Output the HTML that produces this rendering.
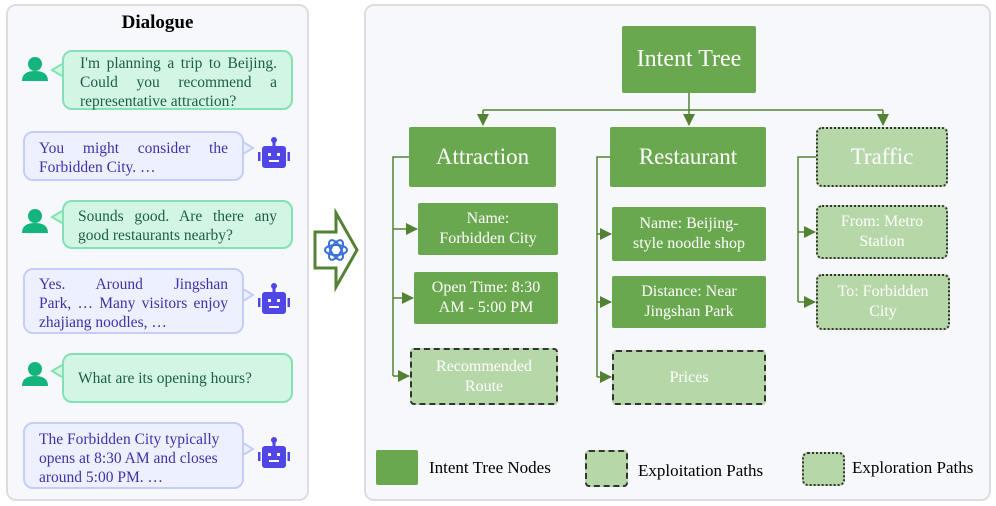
<!DOCTYPE html>
<html><head><meta charset="utf-8"><style>
body{margin:0;width:996px;height:506px;background:#fff;position:relative;overflow:hidden;font-family:"Liberation Serif",serif;}
.abs{position:absolute;box-sizing:border-box;}
.panel{background:#f7f8fc;border:2px solid #dcdde2;border-radius:10px;}
.ub{background:#d3f6e4;border:2px solid #82e2b4;border-radius:10px;color:#1b5e44;font-size:15.5px;line-height:19px;padding:4px 14px;}
.bb{background:#edf0ff;border:2px solid #c5cdf8;border-radius:10px;color:#3b34a8;font-size:15.5px;line-height:19px;padding:4px 14px;}
.j{display:block;text-align:justify;text-align-last:justify;white-space:nowrap;}
.k{display:block;white-space:nowrap;}
.n{background:#6aa84f;color:#fff;display:flex;align-items:center;justify-content:center;text-align:center;border-radius:2px;}
.l{background:#b6d7a8;color:#fff;display:flex;align-items:center;justify-content:center;text-align:center;}
.d{border:2px dashed #333;border-radius:4px;}
.w{border:2px dotted #333;border-radius:6px;}
.c{font-size:16px;line-height:20px;}
</style></head><body>
<div class="abs panel" style="left:6px;top:4px;width:303px;height:497px"></div>
<div class="abs" style="left:6px;top:12px;width:303px;text-align:center;font-weight:bold;font-size:19px">Dialogue</div>

<svg class="abs" style="left:0;top:0" width="996" height="506">
<defs>
<g id="u"><circle cx="13" cy="8" r="7" fill="#14b57d"/><path d="M0 25 Q0 15 13 15 Q26 15 26 25 Z" fill="#14b57d"/></g>
<g id="r"><rect x="4" y="9" width="24" height="22" rx="3" fill="#4f46e5"/><rect x="14.5" y="3" width="3" height="7" fill="#4f46e5"/><circle cx="16" cy="3" r="3" fill="#4f46e5"/><rect x="0" y="15" width="2.5" height="9" fill="#4f46e5"/><rect x="29.5" y="15" width="2.5" height="9" fill="#4f46e5"/><rect x="10" y="16" width="3" height="3" fill="#fff"/><rect x="19" y="16" width="3" height="3" fill="#fff"/><rect x="11" y="23" width="10" height="2" fill="#fff"/></g>
<marker id="b" markerWidth="12" markerHeight="12" refX="11" refY="6" orient="auto" markerUnits="userSpaceOnUse"><path d="M0 0 L12 6 L0 12Z" fill="#548235"/></marker>
</defs>
<use href="#u" x="22" y="56"/><use href="#u" x="22" y="208"/><use href="#u" x="22" y="361"/>
<use href="#r" x="258" y="137"/><use href="#r" x="258" y="283"/><use href="#r" x="258" y="437"/>
<path d="M62 64 L52 70 L62 76" fill="#d3f6e4" stroke="#82e2b4" stroke-width="2"/>
<path d="M62 211 L52 217 L62 223" fill="#d3f6e4" stroke="#82e2b4" stroke-width="2"/>
<path d="M62 365 L52 371 L62 377" fill="#d3f6e4" stroke="#82e2b4" stroke-width="2"/>
<path d="M243 142 L253 148 L243 154" fill="#edf0ff" stroke="#c5cdf8" stroke-width="2"/>
<path d="M243 289 L253 295 L243 301" fill="#edf0ff" stroke="#c5cdf8" stroke-width="2"/>
<path d="M243 443 L253 449 L243 455" fill="#edf0ff" stroke="#c5cdf8" stroke-width="2"/>
<path d="M315 232 L336 232 L336 213 L357 250 L336 287 L336 268 L315 268 Z" fill="#fff" stroke="#548235" stroke-width="3"/>
<g fill="none" stroke="#3a6fd8" stroke-width="2"><ellipse cx="336" cy="250" rx="11" ry="5"/><ellipse cx="336" cy="250" rx="11" ry="5" transform="rotate(60 336 250)"/><ellipse cx="336" cy="250" rx="11" ry="5" transform="rotate(120 336 250)"/></g>
</svg>

<div class="abs ub" style="left:62px;top:50px;width:231px;height:60px;padding:2px 14px 0 16px"><span class="j">I'm planning a trip to Beijing.</span><span class="j">Could you recommend a</span><span class="k">representative attraction?</span></div>
<div class="abs bb" style="left:23px;top:131px;width:221px;height:50px;padding:6px 14px 0 14px"><span class="j">You might consider the</span><span class="k">Forbidden City. …</span></div>
<div class="abs ub" style="left:62px;top:200px;width:231px;height:49px;padding:5px 14px 0 14px"><span class="j">Sounds good. Are there any</span><span class="k">good restaurants nearby?</span></div>
<div class="abs bb" style="left:23px;top:268px;width:221px;height:66px;padding:5px 14px 0 14px"><span class="j">Yes. Around Jingshan</span><span class="j">Park, … Many visitors enjoy</span><span class="k">zhajiang noodles, …</span></div>
<div class="abs ub" style="left:62px;top:353px;width:231px;height:50px;padding:14px 14px 0 14px">What are its opening hours?</div>
<div class="abs bb" style="left:23px;top:422px;width:221px;height:67px;padding:6px 14px 0 14px"><span class="k">The Forbidden City typically</span><span class="k">opens at 8:30 AM and closes</span><span class="k">around 5:00 PM. …</span></div>

<div class="abs panel" style="left:364px;top:4px;width:627px;height:497px"></div>
<svg class="abs" style="left:0;top:0" width="996" height="506">
<g stroke="#548235" stroke-width="1.5" fill="none">
<path d="M689 93 V110"/><path d="M483 110 H883"/>
<path d="M483 110 V125" marker-end="url(#b)"/><path d="M689 110 V125" marker-end="url(#b)"/><path d="M883 110 V125" marker-end="url(#b)"/>
<path d="M409 157 H393 V376"/><path d="M393 229 H417" marker-end="url(#b)"/><path d="M393 298 H413" marker-end="url(#b)"/><path d="M393 376 H409" marker-end="url(#b)"/>
<path d="M610 157 H597 V377"/><path d="M597 234 H611" marker-end="url(#b)"/><path d="M597 302 H611" marker-end="url(#b)"/><path d="M597 377 H611" marker-end="url(#b)"/>
<path d="M816 157 H798 V302"/><path d="M798 232 H815" marker-end="url(#b)"/><path d="M798 302 H815" marker-end="url(#b)"/>
</g></svg>

<div class="abs n" style="left:622px;top:26px;width:134px;height:67px;font-size:24px">Intent Tree</div>
<div class="abs n" style="left:409px;top:127px;width:147px;height:60px;font-size:23px">Attraction</div>
<div class="abs n" style="left:610px;top:127px;width:156px;height:60px;font-size:23px">Restaurant</div>
<div class="abs l w" style="left:816px;top:127px;width:132px;height:60px;font-size:23px">Traffic</div>

<div class="abs n c" style="left:418px;top:203px;width:140px;height:52px">Name:<br>Forbidden City</div>
<div class="abs n c" style="left:414px;top:272px;width:144px;height:52px">Open Time: 8:30<br>AM - 5:00 PM</div>
<div class="abs l d c" style="left:410px;top:348px;width:148px;height:57px">Recommended<br>Route</div>

<div class="abs n c" style="left:612px;top:207px;width:154px;height:54px">Name: Beijing-<br>style noodle shop</div>
<div class="abs n c" style="left:612px;top:276px;width:154px;height:52px">Distance: Near<br>Jingshan Park</div>
<div class="abs l d c" style="left:612px;top:350px;width:154px;height:55px">Prices</div>

<div class="abs l w c" style="left:816px;top:205px;width:132px;height:54px">From: Metro<br>Station</div>
<div class="abs l w c" style="left:816px;top:274px;width:134px;height:56px">To: Forbidden<br>City</div>

<div class="abs n" style="left:376px;top:450px;width:42px;height:35px"></div>
<div class="abs" style="left:429px;top:458px;font-size:17px">Intent Tree Nodes</div>
<div class="abs l d" style="left:585px;top:450px;width:43px;height:37px"></div>
<div class="abs" style="left:638px;top:461px;font-size:17px">Exploitation Paths</div>
<div class="abs l w" style="left:802px;top:452px;width:43px;height:34px"></div>
<div class="abs" style="left:852px;top:458px;font-size:17px">Exploration Paths</div>
</body></html>
